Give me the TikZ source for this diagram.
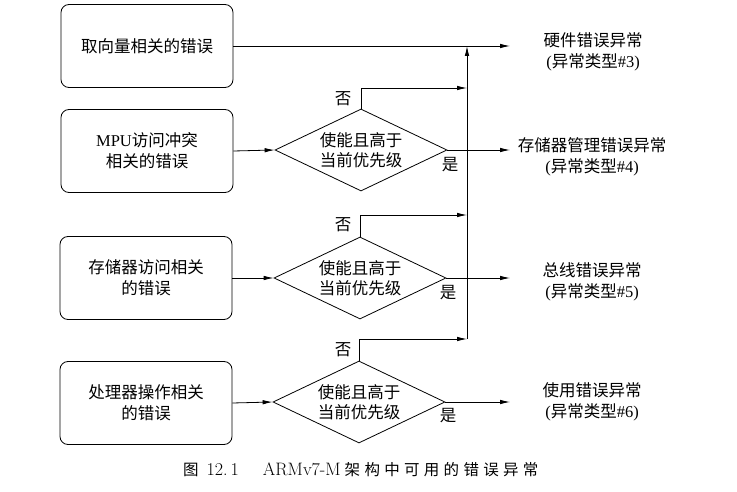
\documentclass[tikz,border=0pt]{standalone}
\usepackage{fontspec}
\newfontfamily\cjk{Noto Sans CJK SC}
\newfontfamily\tms{Liberation Serif}
\usetikzlibrary{shapes.geometric,arrows.meta}

% small gap between caption characters
\newcommand\cgap{\hspace{4.3pt}}

\tikzset{
  ln/.style={line width=0.8pt},
  arr/.style={ln, -{Latex[length=10pt,width=4.5pt]}},
  txt/.style={font=\cjk\fontsize{16.5}{21}\selectfont},
  errbox/.style={txt, draw, ln, rounded corners=8pt, minimum width=172pt,
    minimum height=83pt, align=center},
  test/.style={txt, draw, ln, diamond, inner sep=0pt, shape aspect=2.1,
    minimum width=172pt, minimum height=82pt, align=center,
    font=\cjk\fontsize{16.5}{20}\selectfont},
  outlbl/.style={txt, align=center},
  lbl/.style={txt}
}

\begin{document}
\begin{tikzpicture}[x=1pt,y=-1pt]
  \useasboundingbox (0,0) rectangle (737,492);

  % fault sources
  \node[errbox] (b1) at (147,46)  {取向量相关的错误};
  \node[errbox] (b2) at (147,151) {{\tms MPU}访问冲突\\相关的错误};
  \node[errbox] (b3) at (146,278) {存储器访问相关\\的错误};
  \node[errbox] (b4) at (146,403) {处理器操作相关\\的错误};

  % enable / priority checks
  \node[test] (d1) at (361,150) {使能且高于\\当前优先级};
  \node[test] (d2) at (360,278) {使能且高于\\当前优先级};
  \node[test] (d3) at (359,402) {使能且高于\\当前优先级};

  % escalation bus to HardFault
  \coordinate (top) at (467,46);
  \coordinate (bot) at (467,339);
  \coordinate (n1) at (467,88);
  \coordinate (n2) at (467,215);
  \coordinate (n3) at (467,339);

  % arrow ends of the exception outputs
  \coordinate (o3) at (510,46);
  \coordinate (o4) at (510,150);
  \coordinate (o5) at (510,278);
  \coordinate (o6) at (510,402);

  % exception names
  \node[outlbl] (l3) at (593,52)  {硬件错误异常\\{\tms(}异常类型{\tms\#3)}};
  \node[outlbl] (l4) at (592,157) {存储器管理错误异常\\{\tms(}异常类型{\tms\#4)}};
  \node[outlbl] (l5) at (592,282) {总线错误异常\\{\tms(}异常类型{\tms\#5)}};
  \node[outlbl] (l6) at (592,402) {使用错误异常\\{\tms(}异常类型{\tms\#6)}};

  % connectors
  \draw[arr] (b1.east) -- (o3);
  \draw[arr] (b2.east) -- (d1.west);
  \draw[arr] (b3.east) -- (d2.west);
  \draw[arr] (b4.east) -- (d3.west);

  \draw[arr] (d1.east) -- (o4);
  \draw[arr] (d2.east) -- (o5);
  \draw[arr] (d3.east) -- (o6);

  \draw[arr] (d1.north) |- (n1);
  \draw[arr] (d2.north) |- (n2);
  \draw[arr] (d3.north) |- (n3);

  \draw[arr] (bot) -- (top);

  % branch labels
  \node[lbl] (f1) at (343,99)  {否};
  \node[lbl] (f2) at (343,225) {否};
  \node[lbl] (f3) at (343,350) {否};
  \node[lbl] (y1) at (450,165) {是};
  \node[lbl] (y2) at (448,293) {是};
  \node[lbl] (y3) at (448,416) {是};

  % caption
  \node[anchor=west, inner sep=0pt, font=\fontsize{18}{21}\selectfont] (cap) at (183,470)
    {{\cjk\fontsize{15.5}{20}\selectfont 图}\hspace{8pt}12.\,1\hspace{24pt}ARMv7-M\hspace{4pt}{\cjk\fontsize{15.5}{20}\selectfont
     架\cgap 构\cgap 中\cgap 可\cgap 用\cgap 的\cgap 错\cgap 误\cgap 异\cgap 常}};
\end{tikzpicture}
\end{document}
